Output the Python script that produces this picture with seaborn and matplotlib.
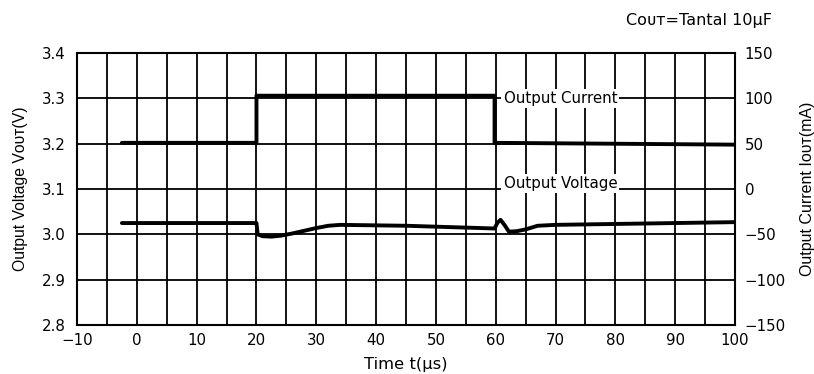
import matplotlib
matplotlib.use("Agg")
import matplotlib.pyplot as plt
import seaborn as sns
import pandas as pd

# dados
tempo_corrente = [-2.5, 20, 20, 59.8, 59.8, 80, 100]
corrente_ma = [51, 51, 103, 103, 51, 50, 49]

tempo_tensao = [-2.5, 20, 20.2, 21, 22.5, 24, 26, 28, 30, 32, 34, 45, 59.8,
                60.3, 60.8, 61.5, 62.2, 63.5, 65, 67, 70, 100]
tensao_v = [3.025, 3.025, 3.0, 2.996, 2.995, 2.997, 3.002, 3.008, 3.014, 3.019,
            3.021, 3.019, 3.013, 3.026, 3.032, 3.02, 3.006, 3.007, 3.011, 3.019,
            3.021, 3.027]

ticks_x = list(range(-10, 101, 10))
ticks_v = [2.8, 2.9, 3.0, 3.1, 3.2, 3.3, 3.4]
ticks_i = [-150, -100, -50, 0, 50, 100, 150]

sns.set_style("white")
plt.rcParams['font.family'] = ['DejaVu Sans']
plt.rcParams['text.color'] = 'black'
plt.rcParams['axes.labelcolor'] = 'black'
fonte_vertical = ['Liberation Sans', 'DejaVu Sans']

df_i = pd.DataFrame({"t": tempo_corrente, "i": corrente_ma})
df_v = pd.DataFrame({"t": tempo_tensao, "v": tensao_v})

fig = plt.figure(figsize=(8.14, 3.74), dpi=100)
ax = fig.add_axes([0.0946, 0.131, 0.8084, 0.727])
ax2 = ax.twinx()

# grade
ax.set_xlim(-10, 100)
ax.set_ylim(2.8, 3.4)
ax.set_xticks(ticks_x)
ax.set_xticks(range(-10, 101, 5), minor=True)
ax.set_yticks(ticks_v)
ax.set_yticklabels([f"{v:.1f}" for v in ticks_v])
ax.set_xticklabels([str(t).replace("-", "\u2212") for t in ticks_x])
ax.grid(True, which="both", color="black", linewidth=1.3)
ax.tick_params(which="both", length=0, labelsize=10.8, colors="black")
ax.tick_params(axis="x", pad=6)
ax.tick_params(axis="y", pad=8)
for s in ax.spines.values():
    s.set_color("black")
    s.set_linewidth(1.5)

sns.lineplot(data=df_v, x="t", y="v", ax=ax, color="black", linewidth=2.8,
             estimator=None, sort=False, zorder=5)

ax2.set_ylim(-150, 150)
ax2.set_yticks(ticks_i)
ax2.set_yticklabels([str(v).replace("-", "\u2212") for v in ticks_i])
ax2.tick_params(length=0, labelsize=10.8, pad=7, colors="black")
for s in ax2.spines.values():
    s.set_visible(False)
sns.lineplot(data=df_i, x="t", y="i", ax=ax2, color="black", linewidth=2.8,
             estimator=None, sort=False, zorder=5)
ax2.set_xlim(-10, 100)

ax.set_xlabel("Time t(\u00b5s)", fontsize=11.8, labelpad=6)
ax.set_ylabel("Output Voltage V\u1d0f\u1d1c\u1d1b(V)", fontsize=11.3,
              labelpad=10, family=fonte_vertical)
ax2.set_ylabel("Output Current I\u1d0f\u1d1c\u1d1b(mA)", fontsize=11.5,
               labelpad=10, family=fonte_vertical)

caixa = dict(facecolor="white", edgecolor="none", pad=1.5)
ax.text(61.3, 3.30, "Output Current", fontsize=10.8, va="center", ha="left",
        bbox=caixa, zorder=6)
ax.text(61.3, 3.112, "Output Voltage", fontsize=10.8, va="center", ha="left",
        bbox=caixa, zorder=6)

fig.text(0.948, 0.945, "C\u1d0f\u1d1c\u1d1b=Tantal 10\u00b5F", fontsize=11.5,
         ha="right", va="center")

plt.savefig("out.png", dpi=100)
